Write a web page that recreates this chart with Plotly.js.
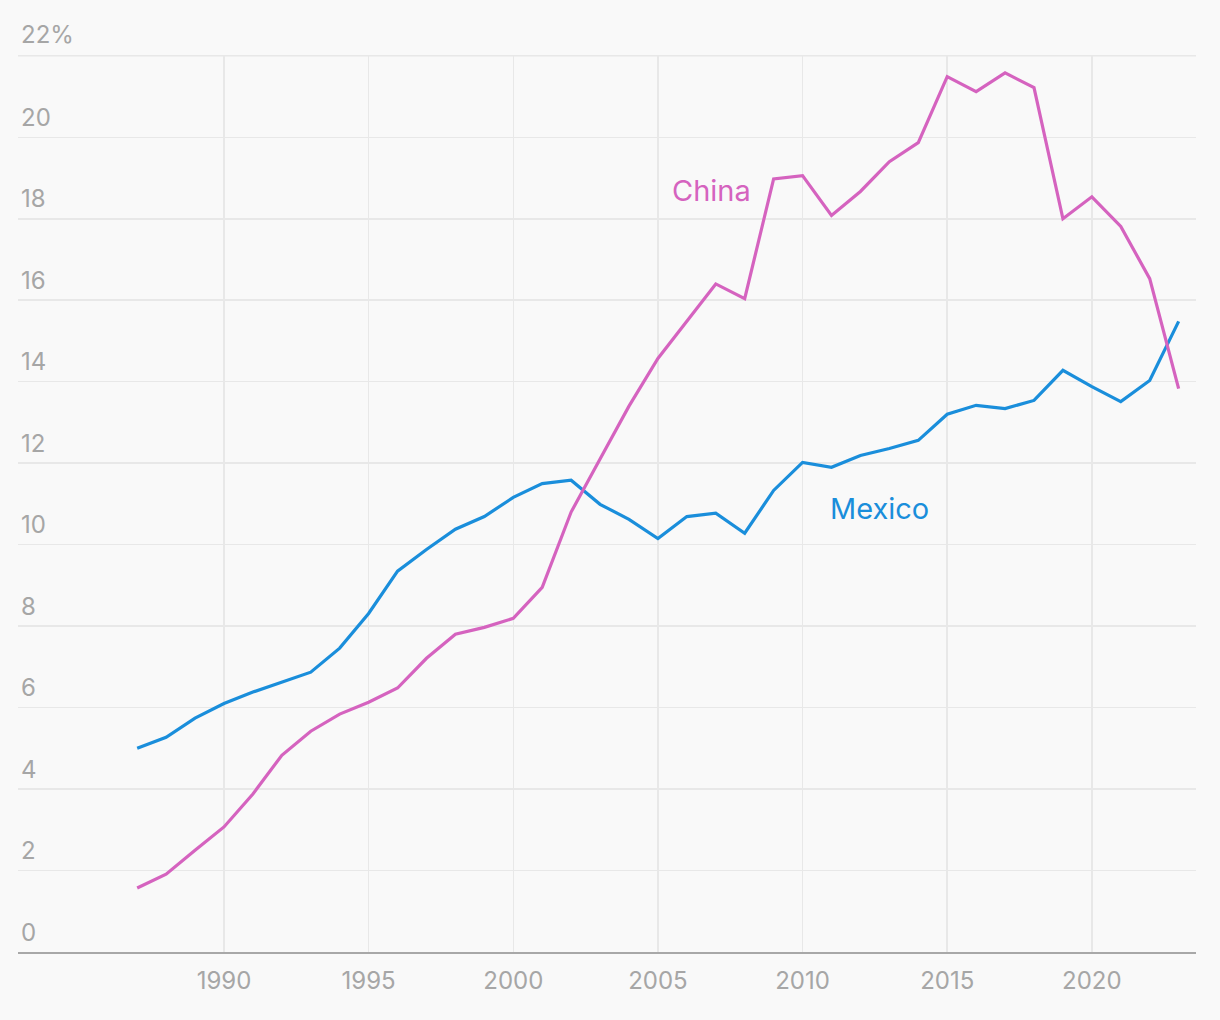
<!DOCTYPE html>
<html>
<head>
<meta charset="utf-8">
<script src="https://cdn.plot.ly/plotly-3.0.1.min.js"></script>
<style>
  html, body { margin: 0; padding: 0; background: #f9f9f9; }
  #chart { width: 1220px; height: 1020px; }
</style>
</head>
<body>
<div id="chart"></div>
<script>
const years = [1987,1988,1989,1990,1991,1992,1993,1994,1995,1996,1997,1998,1999,2000,
  2001,2002,2003,2004,2005,2006,2007,2008,2009,2010,2011,2012,2013,2014,2015,2016,
  2017,2018,2019,2020,2021,2022,2023];

const china = [1.57,1.91,2.5,3.07,3.88,4.83,5.42,5.84,6.13,6.48,7.21,7.8,7.97,8.19,
  8.95,10.8,12.1,13.4,14.57,15.5,16.4,16.04,18.98,19.06,18.08,18.67,19.4,19.87,21.49,21.12,
  21.58,21.22,18.0,18.54,17.81,16.53,13.83];

const mexico = [5.0,5.27,5.74,6.1,6.38,6.62,6.87,7.46,8.31,9.35,9.88,10.38,10.69,11.16,
  11.5,11.58,10.99,10.62,10.15,10.69,10.77,10.28,11.33,12.02,11.9,12.19,12.36,12.56,13.2,13.42,
  13.34,13.54,14.28,13.88,13.51,14.03,15.48];

const yTickVals = [0,2,4,6,8,10,12,14,16,18,20,22];
const yTickText = ["0","2","4","6","8","10","12","14","16","18","20","22%"];
const xTickVals = [1990,1995,2000,2005,2010,2015,2020];

const chinaColor = "#d563bf";
const mexicoColor = "#1a8edb";
const labelGray = "#a6a6a6";
const font = "Inter, 'Open Sans', sans-serif";

const traces = [
  { x: years, y: mexico, mode: "lines", name: "Mexico",
    line: { color: mexicoColor, width: 3.2 }, hoverinfo: "skip" },
  { x: years, y: china, mode: "lines", name: "China",
    line: { color: chinaColor, width: 3.2 }, hoverinfo: "skip" }
];

// The top tick label sits above the plot area, so it is placed as an annotation at its tick value
const topIdx = yTickVals.length - 1;

const layout = {
  width: 1220, height: 1020,
  paper_bgcolor: "#f9f9f9", plot_bgcolor: "#f9f9f9",
  margin: { l: 18, r: 24, t: 55, b: 68 },
  showlegend: false,
  font: { family: font, color: labelGray, size: 24 },
  xaxis: {
    range: [1982.88, 2023.6],
    tickvals: xTickVals,
    ticktext: xTickVals.map(String),
    showgrid: true, gridcolor: "#e8e8e8", gridwidth: 1.5,
    zeroline: false,
    showline: true, linecolor: "#a8a8a8", linewidth: 1.5,
    ticks: "outside", ticklen: 7, tickcolor: "rgba(0,0,0,0)",
    tickfont: { family: font, size: 24, color: labelGray },
    fixedrange: true
  },
  yaxis: {
    range: [0, 22.02],
    tickvals: yTickVals.slice(0, topIdx),
    ticktext: yTickText.slice(0, topIdx),
    ticklabelposition: "inside top",
    ticklabelshift: -3,
    showgrid: true, gridcolor: "#e8e8e8", gridwidth: 1.5,
    zeroline: false, showline: false,
    ticks: "",
    tickfont: { family: font, size: 24, color: labelGray },
    fixedrange: true
  },
  shapes: [
    { type: "line", xref: "paper", x0: 0, x1: 1, yref: "y",
      y0: yTickVals[topIdx], y1: yTickVals[topIdx],
      line: { color: "#e8e8e8", width: 1.5 }, layer: "below" }
  ],
  annotations: [
    { xref: "paper", x: 0, yref: "y", y: yTickVals[topIdx], text: yTickText[topIdx],
      showarrow: false, xanchor: "left", yanchor: "bottom", xshift: 1, yshift: 5,
      font: { family: font, size: 24, color: labelGray } },
    { x: 2006.84, y: 18.69, xref: "x", yref: "y", text: "China", showarrow: false,
      font: { family: font, size: 29, color: chinaColor } },
    { x: 2012.65, y: 10.89, xref: "x", yref: "y", text: "Mexico", showarrow: false,
      font: { family: font, size: 29, color: mexicoColor } }
  ]
};

Plotly.newPlot("chart", traces, layout, { displayModeBar: false, staticPlot: true });
</script>
</body>
</html>
